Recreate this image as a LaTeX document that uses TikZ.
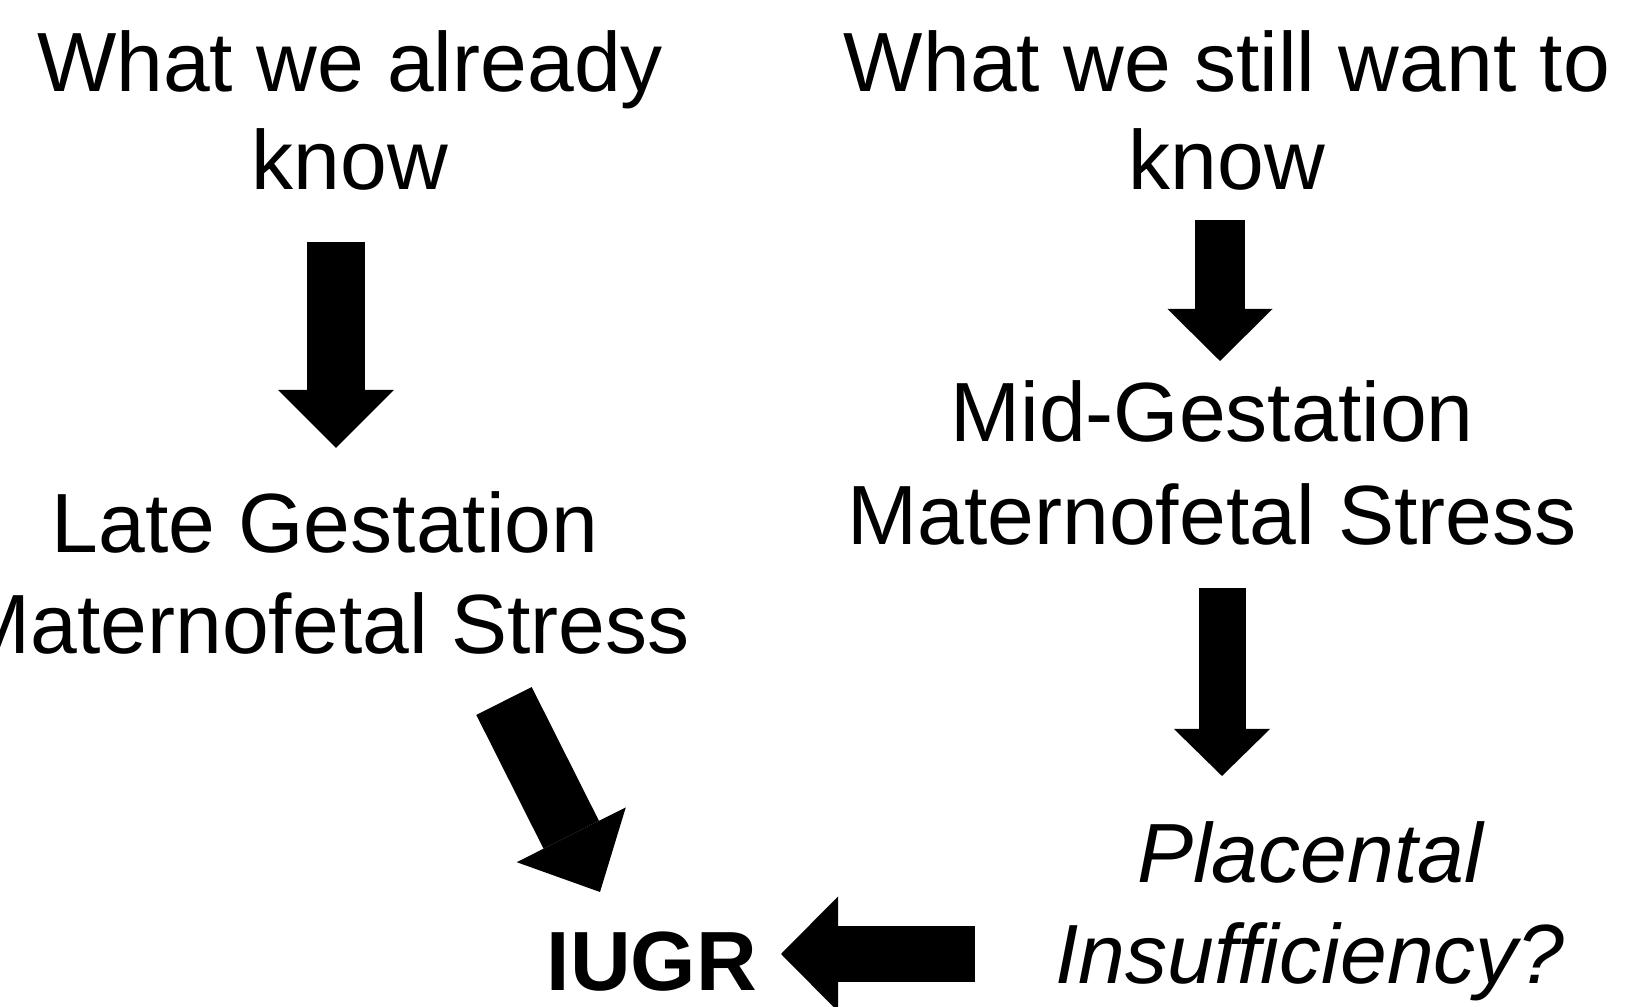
\documentclass[tikz,border=0pt]{standalone}
\usepackage{fontspec}
\setmainfont{Liberation Sans}
\usetikzlibrary{arrows.meta}

\tikzset{
  txt/.style={align=center, anchor=base, inner sep=0pt,
    font=\fontsize{23.9}{28.9}\selectfont},
  fat/.style n args={3}{line width=#1,
    -{Triangle[width=#2, length=#3, line width=0pt]}}
}

\begin{document}
\begin{tikzpicture}[x=0.01cm, y=-0.01cm]
    \useasboundingbox (0,0) rectangle (1627,1007);

    % Texte (ancre = ligne de base de la derniere ligne)
    \node[txt, font=\fontsize{23.9}{28}\selectfont] (known) at (350,190) {What we already\\know};
    \node[txt, font=\fontsize{23.9}{28}\selectfont] (unknown) at (1227,190) {What we still want to\\know};
    \node[txt] (late) at (325,654) {Late Gestation\\Maternofetal Stress};
    \node[txt, font=\fontsize{23.9}{29.4}\selectfont] (mid) at (1212,545) {Mid-Gestation\\Maternofetal Stress};
    \node[txt, font=\fontsize{23.9}{28.9}\selectfont\itshape] (plac) at (1310,984) {Placental\\Insufficiency?};
    \node[txt, font=\fontsize{23.9}{28.9}\selectfont\bfseries] (iugr) at (652,991) {IUGR};

    % Fleches
    \coordinate (a1) at (336,242);  \coordinate (a2) at (336,448);
    \coordinate (b1) at (1220,220); \coordinate (b2) at (1220,361);
    \coordinate (c1) at (1222,588); \coordinate (c2) at (1222,776);
    \coordinate (d1) at (504,701);  \coordinate (d2) at (600,892);
    \coordinate (e1) at (975,954);  \coordinate (e2) at (781,954);

    \draw[fat={5.8mm}{11.6mm}{5.8mm}] (a1) -- (a2);
    \draw[fat={5.0mm}{10.5mm}{5.2mm}] (b1) -- (b2);
    \draw[fat={4.7mm}{9.6mm}{4.7mm}] (c1) -- (c2);
    \draw[fat={6.2mm}{12.2mm}{6.4mm}] (d1) -- (d2);
    \draw[fat={5.5mm}{11.5mm}{5.7mm}] (e1) -- (e2);

\end{tikzpicture}
\end{document}
